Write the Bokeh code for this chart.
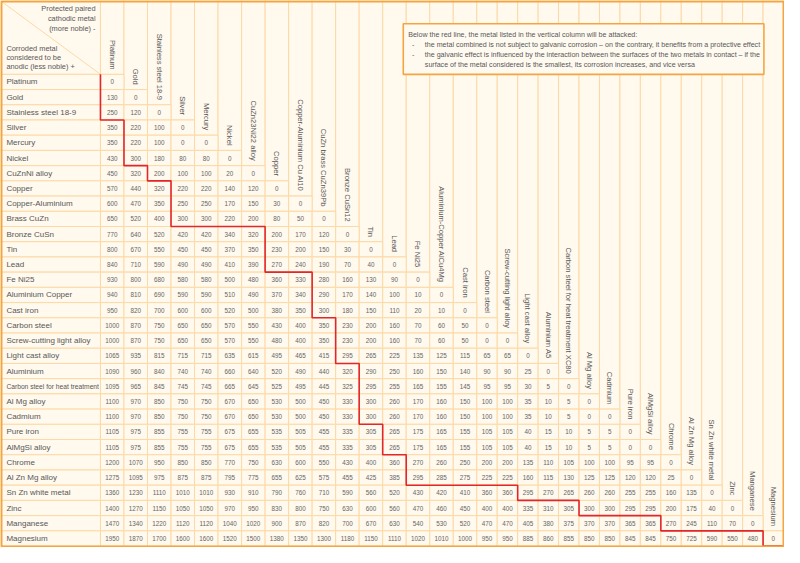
import math
from bokeh.plotting import figure
from bokeh.models import ColumnDataSource
from bokeh.core.properties import value
from bokeh.embed import file_html
from bokeh.resources import INLINE

# ---------------- data ----------------
row_labels = [
    "Platinum", "Gold", "Stainless steel 18-9", "Silver", "Mercury", "Nickel",
    "CuZnNi alloy", "Copper", "Copper-Aluminium", "Brass CuZn", "Bronze CuSn",
    "Tin", "Lead", "Fe Ni25", "Aluminium Copper", "Cast iron", "Carbon steel",
    "Screw-cutting light alloy", "Light cast alloy", "Aluminium",
    "Carbon steel for heat treatment", "Al Mg alloy", "Cadmium", "Pure iron",
    "AlMgSi alloy", "Chrome", "Al Zn Mg alloy", "Sn Zn white metal", "Zinc",
    "Manganese", "Magnesium",
]

col_labels = [
    "Platinum", "Gold", "Stainless steel 18-9", "Silver", "Mercury", "Nickel",
    "CuZn23Ni22 alloy", "Copper", "Copper-Aluminium Cu Al10",
    "CuZn brass CuZn39Pb", "Bronze CuSn12", "Tin", "Lead", "Fe Ni25",
    "Aluminium-Copper AlCu4Mg", "Cast iron", "Carbon steel",
    "Screw-cutting light alloy", "Light cast alloy", "Aluminium A5",
    "Carbon steel for heat treatment XC80", "Al Mg alloy", "Cadmium",
    "Pure iron", "AlMgSi alloy", "Chrome", "Al Zn Mg alloy",
    "Sn Zn white metal", "Zinc", "Manganese", "Magnesium",
]

potential_mv = [
    [0],
    [130, 0],
    [250, 120, 0],
    [350, 220, 100, 0],
    [350, 220, 100, 0, 0],
    [430, 300, 180, 80, 80, 0],
    [450, 320, 200, 100, 100, 20, 0],
    [570, 440, 320, 220, 220, 140, 120, 0],
    [600, 470, 350, 250, 250, 170, 150, 30, 0],
    [650, 520, 400, 300, 300, 220, 200, 80, 50, 0],
    [770, 640, 520, 420, 420, 340, 320, 200, 170, 120, 0],
    [800, 670, 550, 450, 450, 370, 350, 230, 200, 150, 30, 0],
    [840, 710, 590, 490, 490, 410, 390, 270, 240, 190, 70, 40, 0],
    [930, 800, 680, 580, 580, 500, 480, 360, 330, 280, 160, 130, 90, 0],
    [940, 810, 690, 590, 590, 510, 490, 370, 340, 290, 170, 140, 100, 10, 0],
    [950, 820, 700, 600, 600, 520, 500, 380, 350, 300, 180, 150, 110, 20, 10, 0],
    [1000, 870, 750, 650, 650, 570, 550, 430, 400, 350, 230, 200, 160, 70, 60, 50, 0],
    [1000, 870, 750, 650, 650, 570, 550, 480, 400, 350, 230, 200, 160, 70, 60, 50, 0, 0],
    [1065, 935, 815, 715, 715, 635, 615, 495, 465, 415, 295, 265, 225, 135, 125, 115, 65, 65, 0],
    [1090, 960, 840, 740, 740, 660, 640, 520, 490, 440, 320, 290, 250, 160, 150, 140, 90, 90, 25, 0],
    [1095, 965, 845, 745, 745, 665, 645, 525, 495, 445, 325, 295, 255, 165, 155, 145, 95, 95, 30, 5, 0],
    [1100, 970, 850, 750, 750, 670, 650, 530, 500, 450, 330, 300, 260, 170, 160, 150, 100, 100, 35, 10, 5, 0],
    [1100, 970, 850, 750, 750, 670, 650, 530, 500, 450, 330, 300, 260, 170, 160, 150, 100, 100, 35, 10, 5, 0, 0],
    [1105, 975, 855, 755, 755, 675, 655, 535, 505, 455, 335, 305, 265, 175, 165, 155, 105, 105, 40, 15, 10, 5, 5, 0],
    [1105, 975, 855, 755, 755, 675, 655, 535, 505, 455, 335, 305, 265, 175, 165, 155, 105, 105, 40, 15, 10, 5, 5, 0, 0],
    [1200, 1070, 950, 850, 850, 770, 750, 630, 600, 550, 430, 400, 360, 270, 260, 250, 200, 200, 135, 110, 105, 100, 100, 95, 95, 0],
    [1275, 1095, 975, 875, 875, 795, 775, 655, 625, 575, 455, 425, 385, 295, 285, 275, 225, 225, 160, 115, 130, 125, 125, 120, 120, 25, 0],
    [1360, 1230, 1110, 1010, 1010, 930, 910, 790, 760, 710, 590, 560, 520, 430, 420, 410, 360, 360, 295, 270, 265, 260, 260, 255, 255, 160, 135, 0],
    [1400, 1270, 1150, 1050, 1050, 970, 950, 830, 800, 750, 630, 600, 560, 470, 460, 450, 400, 400, 335, 310, 305, 300, 300, 295, 295, 200, 175, 40, 0],
    [1470, 1340, 1220, 1120, 1120, 1040, 1020, 900, 870, 820, 700, 670, 630, 540, 530, 520, 470, 470, 405, 380, 375, 370, 370, 365, 365, 270, 245, 110, 70, 0],
    [1950, 1870, 1700, 1600, 1600, 1520, 1500, 1380, 1350, 1300, 1180, 1150, 1110, 1020, 1010, 1000, 950, 950, 885, 860, 855, 850, 850, 845, 845, 750, 725, 590, 550, 480, 0],
]

# first column index (per row) that lies right of the red line
red_line_col = [0, 0, 0, 1, 1, 1, 2, 3, 3, 3, 7, 7, 7, 9, 9, 9, 10, 10, 10,
                11, 11, 11, 11, 12, 12, 13, 13, 18, 21, 25, 30]

corner_top = ["Protected paired", "cathodic metal", "(more noble) -"]
corner_bottom = ["Corroded metal", "considered to be", "anodic (less noble) +"]
note_title = "Below the red line, the metal listed in the vertical column will be attacked:"
note_items = [
    ["the metal combined is not subject to galvanic corrosion \u2013 on the contrary, it benefits from a protective effect"],
    ["the galvanic effect is influenced by the interaction between the surfaces of the two metals in contact \u2013 if the",
     "surface of the metal considered is the smallest, its corrosion increases, and vice versa"],
]

# ---------------- layout (reference pixel space) ----------------
W, H = 800, 563
CREAM = "#FFF9EE"
GRID = "#FCD9A6"
BORDER = "#F5A540"
RED = "#E3262A"
TXT = "#585858"
FONT = value("Liberation Sans")

n = len(row_labels)
LABEL_W = 102.0
col_edges = [LABEL_W]
for j in range(n):
    col_edges.append(col_edges[-1] + (24.0 if j < 16 else (799.0 - 486.0) / 15.0))
ROW_TOP0 = 76.0
ROW_H = (561.5 - ROW_TOP0) / n
row_top = [ROW_TOP0 + i * ROW_H for i in range(n)]
row_bot = [t + ROW_H for t in row_top]


def Y(ry):
    return H - ry


p = figure(width=784, height=547, x_range=(0, W), y_range=(0, H),
           output_backend="svg", toolbar_location=None, min_border=0,
           x_axis_location=None, y_axis_location=None)
p.grid.visible = False
p.outline_line_color = None
p.background_fill_color = CREAM
p.border_fill_color = "white"

# cells
L, R, T, B = [], [], [], []
L.append(0); R.append(LABEL_W); T.append(Y(0)); B.append(Y(ROW_TOP0))
for j in range(n):
    L.append(col_edges[j]); R.append(col_edges[j + 1]); T.append(Y(0)); B.append(Y(row_top[j]))
for i in range(n):
    L.append(0); R.append(LABEL_W); T.append(Y(row_top[i])); B.append(Y(row_bot[i]))
    for j in range(i + 1):
        L.append(col_edges[j]); R.append(col_edges[j + 1]); T.append(Y(row_top[i])); B.append(Y(row_bot[i]))
p.quad(left=L, right=R, top=T, bottom=B, fill_color=CREAM, line_color=GRID, line_width=1)

# diagonal in corner
p.segment(x0=[1], y0=[Y(1)], x1=[LABEL_W], y1=[Y(ROW_TOP0)], line_color=GRID, line_width=1)

# values
vx, vy, vt = [], [], []
for i, row in enumerate(potential_mv):
    for j, v in enumerate(row):
        vx.append((col_edges[j] + col_edges[j + 1]) / 2)
        vy.append(Y((row_top[i] + row_bot[i]) / 2))
        vt.append(str(v))
p.text(x=vx, y=vy, text=vt, text_font=FONT, text_font_size="6.3px", text_color="#666666",
       text_align="center", text_baseline="middle")

# row labels
lsrc = ColumnDataSource(dict(
    x=[6] * n,
    y=[Y((row_top[i] + row_bot[i]) / 2) for i in range(n)],
    t=row_labels,
    fs=["6.7px" if len(s) > 28 else "8px" for s in row_labels],
))
p.text(x="x", y="y", text="t", text_font_size="fs", source=lsrc, text_font=FONT,
       text_color=TXT, text_align="left", text_baseline="middle")

# column headers (rotated)
p.text(x=[(col_edges[j] + col_edges[j + 1]) / 2 for j in range(n)],
       y=[Y(row_top[j] - 5) for j in range(n)],
       text=col_labels, angle=-math.pi / 2, text_font=FONT, text_font_size="7.6px",
       text_color=TXT, text_align="right", text_baseline="middle")

# corner texts
p.text(x=[97] * 3, y=[Y(8.5), Y(18.5), Y(28.5)], text=corner_top, text_font=FONT,
       text_font_size="7.4px", text_color=TXT, text_align="right", text_baseline="middle")
p.text(x=[6] * 3, y=[Y(49.5), Y(59), Y(68)], text=corner_bottom, text_font=FONT,
       text_font_size="7.4px", text_color=TXT, text_align="left", text_baseline="middle")

# red staircase line
rx = [col_edges[red_line_col[0]]]
ry = [Y(row_top[0])]
for i in range(n):
    x = col_edges[red_line_col[i]]
    rx.append(x); ry.append(Y(row_bot[i]))
    if i + 1 < n and red_line_col[i + 1] != red_line_col[i]:
        rx.append(col_edges[red_line_col[i + 1]]); ry.append(Y(row_bot[i]))
rx.append(W - 1); ry.append(Y(row_bot[-1]))
p.line(rx, ry, line_color=RED, line_width=1.6)

# note box
p.quad(left=[411], right=[779], top=[Y(24)], bottom=[Y(76)], fill_color="#FFFAF0",
       line_color=BORDER, line_width=1.6)
tx, ty, tt = [416], [Y(35)], [note_title]
line_y = 45.5
for item in note_items:
    tx.append(420); ty.append(Y(line_y)); tt.append("-")
    for k, s in enumerate(item):
        tx.append(433); ty.append(Y(line_y)); tt.append(s)
        line_y += 10.3
p.text(x=tx, y=ty, text=tt, text_font=FONT, text_font_size="7.1px", text_color=TXT,
       text_align="left", text_baseline="middle")

# outer border
p.quad(left=[1], right=[W - 1], top=[Y(1)], bottom=[Y(H - 1)], fill_color=None,
       line_color=BORDER, line_width=2)

open("out.html", "w").write(file_html(p, INLINE))
